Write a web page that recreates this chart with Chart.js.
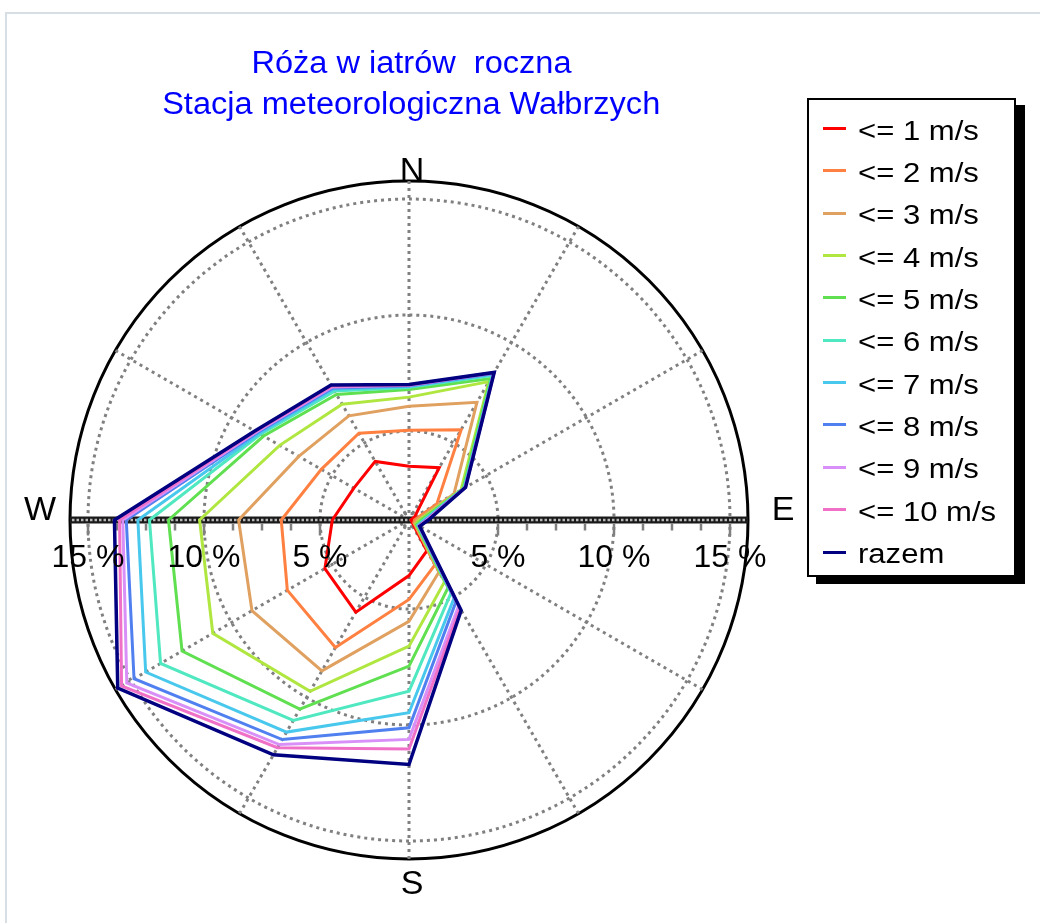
<!DOCTYPE html>
<html>
<head>
<meta charset="utf-8">
<script src="https://cdn.jsdelivr.net/npm/chart.js@4.4.1/dist/chart.umd.min.js"></script>
<style>
  html, body { margin: 0; padding: 0; background: #fff; }
  #wrap { position: relative; width: 1040px; height: 923px; overflow: hidden; font-family: "Liberation Sans", Arial, sans-serif; }
  #frame { position: absolute; left: 5px; top: 12px; width: 1100px; height: 1000px; border-left: 2px solid #d6dee6; border-top: 2px solid #d6dee6; }
  #c { position: absolute; left: 0; top: 0; }
  .title { position: absolute; left: 0; width: 822px; text-align: center; color: #0000ff; font-size: 31px; line-height: 31px; white-space: pre; }
  .title span { display: inline-block; transform: scaleX(1.05); }
  #legend { position: absolute; left: 807px; top: 98px; width: 205px; height: 475px; border: 2px solid #000; background: #fff; box-shadow: 9px 7px 0 #000; }
  .sw { position: absolute; left: 14px; width: 23px; height: 3px; }
  .lt { position: absolute; left: 49px; font-size: 27px; line-height: 27px; color: #000; white-space: pre; transform: scaleX(1.15); transform-origin: 0 0; }
</style>
</head>
<body>
<div id="wrap">
  <div id="frame"></div>
  <canvas id="c" width="1040" height="923"></canvas>
  <div class="title" id="t1"></div>
  <div class="title" id="t2"></div>
  <div id="legend"></div>
</div>
<script>
// ---- data (cumulative frequency in %, directions clockwise from N every 30°) ----
const directions = ['N', '30°', '60°', 'E', '120°', '150°', 'S', '210°', '240°', 'W', '300°', '330°'];
const compassLabels = ['N', '', '', 'E', '', '', 'S', '', '', 'W', '', ''];
const seriesNames = ['<= 1 m/s', '<= 2 m/s', '<= 3 m/s', '<= 4 m/s', '<= 5 m/s', '<= 6 m/s', '<= 7 m/s', '<= 8 m/s', '<= 9 m/s', '<= 10 m/s', 'razem'];
const le1  = [3.48, 3.77, 1.45, 1.25, 1.30, 2.70, 3.56, 5.75, 5.35, 4.47, 3.91, 4.08];
const le2  = [5.03, 5.66, 2.55, 1.40, 1.40, 3.40, 4.59, 7.51, 7.22, 6.67, 5.53, 5.48];
const le3  = [6.07, 7.02, 3.40, 1.50, 1.45, 3.75, 5.53, 8.67, 8.98, 8.51, 6.65, 6.35];
const le4  = [6.46, 8.05, 3.75, 1.60, 1.50, 4.23, 6.60, 9.69, 10.93, 10.19, 7.60, 6.93];
const le5  = [6.79, 8.21, 3.85, 1.70, 1.55, 4.53, 7.46, 10.58, 12.46, 11.53, 8.40, 7.41];
const le6  = [6.88, 8.35, 3.90, 1.80, 1.60, 4.79, 8.54, 11.14, 13.53, 12.35, 8.55, 7.58];
const le7  = [6.92, 8.42, 3.93, 1.85, 1.63, 5.05, 9.47, 11.72, 14.27, 12.85, 8.62, 7.67];
const le8  = [6.95, 8.45, 3.95, 1.90, 1.65, 5.22, 10.12, 12.09, 14.85, 13.35, 8.70, 7.74];
const le9  = [6.97, 8.48, 3.96, 1.93, 1.67, 5.44, 10.62, 12.34, 15.21, 13.50, 8.76, 7.78];
const le10 = [6.98, 8.50, 3.97, 1.96, 1.68, 5.56, 11.03, 12.50, 15.47, 13.64, 8.80, 7.82];
const razem = [7.00, 8.51, 3.98, 2.00, 1.70, 5.66, 11.70, 12.85, 15.66, 13.86, 8.84, 7.88];
const seriesValues = [le1, le2, le3, le4, le5, le6, le7, le8, le9, le10, razem];
const seriesColors = ['#ff0000', '#ff8040', '#e0a060', '#b0e640', '#60e050', '#50e8c0', '#48c8ec', '#5080f0', '#d890f8', '#f070c8', '#000080'];
// radial axis
const axisMin = 1.164;
const axisMax = 15.776;
const innerRing = 1.47;
const ringTicks = [5, 10, 15];
const ringLabels = ['5 %', '10 %', '15 %'];
const minorStep = 1.25;

// ---- title & legend (HTML text) ----
function span(txt) { const s = document.createElement('span'); s.textContent = txt; return s; }
const t1 = document.getElementById('t1'); t1.style.top = '47px'; t1.appendChild(span('Róża w iatrów  roczna'));
const t2 = document.getElementById('t2'); t2.style.top = '88px'; t2.appendChild(span('Stacja meteorologiczna Wałbrzych'));
const legend = document.getElementById('legend');
seriesNames.forEach((name, i) => {
  const rowC = 28.5 + 42.35 * i;
  const sw = document.createElement('div'); sw.className = 'sw';
  sw.style.top = (rowC - 1.5) + 'px'; sw.style.background = seriesColors[i];
  legend.appendChild(sw);
  const tx = document.createElement('div'); tx.className = 'lt';
  tx.style.top = (rowC - 11) + 'px'; tx.textContent = name;
  legend.appendChild(tx);
});

// ---- plugin: E-W axis bar with ticks, % labels, compass letters ----
const roseDecor = {
  id: 'roseDecor',
  beforeDatasetsDraw(chart) {
    const s = chart.scales.r, ctx = chart.ctx;
    const cx = s.xCenter, cy = s.yCenter, R = s.drawingArea;
    ctx.save();
    ctx.fillStyle = '#1a1a1a';
    ctx.fillRect(cx - R, cy - 3.5, 2 * R, 7);
    ctx.strokeStyle = '#b8b8b8'; ctx.lineWidth = 2.5; ctx.setLineDash([2.5, 2]);
    ctx.beginPath(); ctx.moveTo(cx - R + 2, cy); ctx.lineTo(cx + R - 2, cy); ctx.stroke();
    ctx.setLineDash([]);
    ctx.strokeStyle = '#808080'; ctx.lineWidth = 2.5;
    for (let v = ringTicks[0]; v <= ringTicks[ringTicks.length - 1] + 1e-6; v += minorStep) {
      const d = s.getDistanceFromCenterForValue(v);
      const major = ringTicks.some(t => Math.abs(t - v) < 1e-6);
      const len = major ? 12 : 7;
      [1, -1].forEach(sg => {
        ctx.beginPath(); ctx.moveTo(cx + sg * d, cy + 3.5); ctx.lineTo(cx + sg * d, cy + 3.5 + len); ctx.stroke();
      });
    }
    ctx.restore();
  },
  afterDraw(chart) {
    const s = chart.scales.r, ctx = chart.ctx;
    const cx = s.xCenter, cy = s.yCenter, R = s.drawingArea;
    ctx.save();
    ctx.fillStyle = '#000';
    ctx.font = '32px "Liberation Sans", Arial, sans-serif';
    ctx.textAlign = 'center'; ctx.textBaseline = 'alphabetic';
    ringTicks.forEach((v, i) => {
      const d = s.getDistanceFromCenterForValue(v);
      ctx.fillText(ringLabels[i], cx + d, cy + 47);
      ctx.fillText(ringLabels[i], cx - d, cy + 47);
    });
    ctx.font = '34px "Liberation Sans", Arial, sans-serif';
    compassLabels.forEach((lab, i) => {
      if (!lab) return;
      let p;
      if (i === 0) { p = s.getPointPosition(i, R + 21); ctx.fillText(lab, p.x + 3, p.y + 21); }
      else if (i === 6) { p = s.getPointPosition(i, R + 35); ctx.fillText(lab, p.x + 3, p.y); }
      else if (i === 3) { p = s.getPointPosition(i, R + 35); ctx.fillText(lab, p.x, p.y); }
      else { p = s.getPointPosition(i, R + 30); ctx.fillText(lab, p.x, p.y); }
    });
    ctx.restore();
  }
};

const datasets = seriesValues.map((vals, i) => {
  const ds = {
    label: seriesNames[i],
    data: vals,
    borderColor: seriesColors[i],
    borderWidth: i === seriesValues.length - 1 ? 3.5 : 3,
    fill: false,
    pointRadius: 0,
    pointHoverRadius: 0,
    tension: 0,
    order: -i
  };
  if (i === 3) {
    ds.segment = { borderColor: c => (c.p0DataIndex === 0 ? 'rgba(0,0,0,0)' : undefined) };
  }
  return ds;
});

new Chart(document.getElementById('c'), {
  type: 'radar',
  data: { labels: directions, datasets },
  options: {
    responsive: false,
    animation: false,
    devicePixelRatio: 1,
    layout: { padding: { left: 70, top: 181, right: 292, bottom: 64 } },
    plugins: { legend: { display: false }, title: { display: false }, tooltip: { enabled: false } },
    elements: { line: { borderJoinStyle: 'miter' } },
    scales: {
      r: {
        min: axisMin,
        max: axisMax,
        afterBuildTicks: (scale) => {
          scale.ticks = [axisMin, innerRing, ...ringTicks, axisMax].map(v => ({ value: v }));
        },
        ticks: { display: false },
        pointLabels: { display: false },
        grid: {
          circular: true,
          color: c => (c.tick && c.tick.value >= axisMax - 1e-6 ? '#000000' : '#808080'),
          lineWidth: 3
        },
        border: {
          dash: c => (c.tick && c.tick.value >= axisMax - 1e-6 ? [] : [3, 4])
        },
        angleLines: { display: true, color: '#808080', lineWidth: 3, borderDash: [3, 4] }
      }
    }
  },
  plugins: [roseDecor]
});
</script>
</body>
</html>
